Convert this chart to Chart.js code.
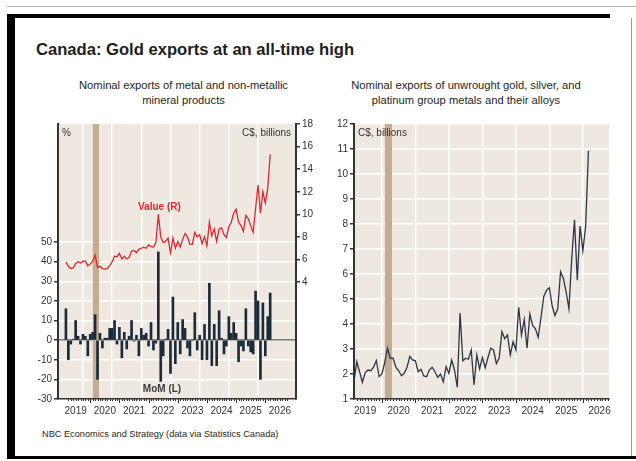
<!DOCTYPE html>
<html>
<head>
<meta charset="utf-8">
<script src="https://cdn.jsdelivr.net/npm/chart.js@4.4.0/dist/chart.umd.min.js"></script>
<style>
    html, body { margin: 0; padding: 0; background: #fff; }
    body {
        width: 636px; height: 461px; position: relative; overflow: hidden;
        font-family: "Liberation Sans", Arial, sans-serif; color: #1e1e1e;
    }
    .abs { position: absolute; }
    #topLine { left: 7px; top: 6px; width: 629px; height: 1px; background: #b0b0b0; }
    #topBar { left: 7px; top: 14px; width: 603px; height: 4px; background: #000; }
    #leftBar { left: 7px; top: 14px; width: 8px; height: 445px; background: #000; }
    #bottomBar { left: 7px; top: 456px; width: 629px; height: 3px; background: #000; }
    #rightLine { left: 631px; top: 18px; width: 1px; height: 438px; background: #9a9a9a; }
    #title { left: 36px; top: 40px; margin: 0; font-size: 16.6px; font-weight: bold; }
    .sub { top: 78px; font-size: 11.2px; line-height: 15px; text-align: center; }
    #subLeft { left: 40px; width: 287px; }
    #subRight { left: 330px; width: 272px; }
    #foot { left: 42px; top: 429px; font-size: 9.2px; }
    .panel { position: absolute; top: 110px; }
    #leftPanel { left: 20px; width: 330px; height: 310px; }
    #rightPanel { left: 320px; width: 310px; height: 310px; }
</style>
</head>
<body>
<div class="abs" id="topLine"></div>
<div class="abs" id="topBar"></div>
<div class="abs" id="leftBar"></div>
<div class="abs" id="bottomBar"></div>
<div class="abs" id="rightLine"></div>

<h1 class="abs" id="title">Canada: Gold exports at an all-time high</h1>
<div class="abs sub" id="subLeft">Nominal exports of metal and non-metallic<br>mineral products</div>
<div class="abs sub" id="subRight">Nominal exports of unwrought gold, silver, and<br>platinum group metals and their alloys</div>
<div class="abs" id="foot">NBC Economics and Strategy (data via Statistics Canada)</div>

<div class="panel" id="leftPanel"><canvas id="mineralChart" width="330" height="310"></canvas></div>
<div class="panel" id="rightPanel"><canvas id="goldChart" width="310" height="310"></canvas></div>

<script>
    // ---- data (monthly, first observation Mar 2019 on the chart's time axis) ----
    const startYear = 2019;
    const startMonth = 3;
    const yearLabels = [2019, 2020, 2021, 2022, 2023, 2024, 2025, 2026];
    const recessionStart = 2020.09;
    const recessionEnd = 2020.30;

    // Left panel: month-over-month change, % (left axis)
    const mineralMoM = [
        16, -10, -2, 0.5, 10, 2, -2, 3, 2, -8,
        3, 4, 13, -20, 3.5, -4, 1, 1, 6, 6,
        10, -2, 6.5, -9, 4, -4.5, 2, 10, -0.5, 2.5,
        -8, 6, 2.5, 3.5, -3, 9, -5, -1.5, 45, -21,
        -8, 0.5, 5.5, -17, 22, -12, 9, -7, 10.5, 6,
        -4, -8, 0, 14, -5, 2.5, -10, 8, -10, 29,
        -13, 8, -13, 15, 1, -7, -3, 12, 3.5, 9,
        3.5, -11, -3, -5.5, 16, -3, -6, -7, 25, 20,
        -20, 19, -8, 12, 24
    ];
    // Left panel: value, C$ billions (right axis)
    const mineralValue = [
        5.8, 5.4, 5.2, 5.25, 5.65, 5.8, 5.7, 5.85, 5.85, 5.45,
        5.6, 5.85, 6.4, 5.3, 5.4, 5.2, 5.15, 5.2, 5.45, 5.8,
        6.3, 6.25, 6.55, 6.05, 6.3, 6.05, 6.2, 6.75, 6.8, 6.6,
        6.9, 7.0, 7.1, 7.0, 7.3, 7.15, 7.1, 7.5, 10.0, 8.0,
        7.5, 7.6, 7.9, 6.6, 7.9, 7.0, 7.6, 7.1, 7.8, 8.3,
        8.0, 7.35, 7.35, 8.4, 8.0, 8.2, 7.4, 8.0, 7.2, 9.3,
        8.1, 8.7, 7.6, 8.7, 8.8, 8.2, 7.95, 8.9, 9.3, 10.1,
        10.45, 9.3, 9.0, 8.5, 9.9, 9.6, 9.0, 8.4, 10.5, 12.6,
        10.1, 12.0, 11.0, 12.3, 15.3
    ];
    // Right panel: unwrought gold, silver and PGM exports, C$ billions
    const goldValue = [
        1.7, 2.49, 2.09, 1.67, 2.05, 2.16, 2.13, 2.27, 2.54, 1.9,
        2.0, 2.45, 3.03, 2.63, 2.63, 2.27, 2.13, 1.93, 2.03, 2.27,
        2.7, 2.56, 2.53, 2.09, 2.19, 1.92, 1.89, 2.16, 2.27, 2.09,
        1.87, 2.0, 1.69, 2.29, 2.03, 2.56, 2.16, 1.47, 4.44, 2.53,
        2.63, 2.59, 2.96, 1.56, 2.76, 2.21, 2.66, 2.25, 2.66, 3.03,
        2.96, 2.42, 2.63, 3.69, 3.41, 3.56, 2.76, 3.29, 2.96, 4.67,
        3.56, 4.18, 3.03, 4.4, 3.94, 3.81, 3.47, 4.26, 5.1, 5.35,
        5.45, 4.72, 4.34, 4.61, 6.09, 5.83, 5.29, 4.61, 6.6, 8.17,
        5.75, 7.92, 6.93, 7.92, 10.93
    ];

    const momTicks = [-30, -20, -10, 0, 10, 20, 30, 40, 50];
    const valueTicks = [4, 6, 8, 10, 12, 14, 16, 18];
    const goldTicks = [1, 2, 3, 4, 5, 6, 7, 8, 9, 10, 11, 12];

    const X_MIN = 2019.167;
    const X_MAX = 2026.78;
    const INK = '#333333';
    const PANEL_BG = '#EEE8E1';
    const SHADE = '#C3AC8F';
    const RED = '#E2262E';
    const NAVY = '#1B2B3A';

    function monthX(i) {
        return startYear + (startMonth - 1 + i) / 12;
    }

    function toPoints(arr) {
        return arr.map((v, i) => ({ x: monthX(i), y: v }));
    }

    const font10 = { family: '"Liberation Sans", Arial, sans-serif', size: 10 };

    // x ticks: year boundaries carry the grid, mid-year ticks carry the labels
    const xTickValues = [];
    yearLabels.forEach(y => { xTickValues.push(y, y + 0.5); });

    function xScale(height) {
        return {
            type: 'linear',
            min: X_MIN,
            max: X_MAX,
            afterBuildTicks: s => {
                s.ticks = xTickValues.filter(v => v >= X_MIN && v <= X_MAX).map(v => ({ value: v }));
            },
            afterFit: s => { s.height = height; },
            grid: {
                color: c => (c.tick && Number.isInteger(c.tick.value)) ? '#FFFFFF' : 'rgba(0,0,0,0)',
                lineWidth: 1.5,
                drawTicks: false
            },
            border: { color: INK, width: 1.5 },
            ticks: {
                padding: 6,
                font: font10,
                color: INK,
                maxRotation: 0,
                autoSkip: false,
                callback: v => Number.isInteger(v) ? '' : String(Math.floor(v))
            }
        };
    }

    function yScale(opts) {
        return {
            type: 'linear',
            position: opts.position,
            min: opts.min,
            max: opts.max,
            afterBuildTicks: s => { s.ticks = opts.ticks.map(v => ({ value: v })); },
            afterFit: s => { s.width = opts.width; },
            grid: {
                drawOnChartArea: opts.grid,
                color: c => (c.tick && c.tick.value === 0 && opts.zeroLine) ? '#7c7c7c' : '#FFFFFF',
                lineWidth: 1.5,
                tickColor: INK,
                tickLength: 4
            },
            border: { color: INK, width: 2 },
            ticks: { padding: 2, font: font10, color: INK, autoSkip: false }
        };
    }

    // background, recession bar, monthly tick marks and in-panel notes
    const panelPlugin = {
        id: 'panel',
        beforeDraw(chart) {
            const { ctx, chartArea: a } = chart;
            ctx.save();
            ctx.fillStyle = PANEL_BG;
            ctx.fillRect(a.left, a.top, a.right - a.left, a.bottom - a.top);
            ctx.restore();
        },
        beforeDatasetsDraw(chart) {
            const { ctx, chartArea: a, scales } = chart;
            const x0 = scales.x.getPixelForValue(recessionStart);
            const x1 = scales.x.getPixelForValue(recessionEnd);
            ctx.save();
            ctx.fillStyle = SHADE;
            ctx.fillRect(x0, a.top, x1 - x0, a.bottom - a.top - 1);
            ctx.restore();
        },
        afterDraw(chart, args, opts) {
            const { ctx, chartArea: a, scales } = chart;
            ctx.save();
            ctx.strokeStyle = INK;
            ctx.lineWidth = 1;
            for (let m = Math.ceil(X_MIN * 12); m <= Math.floor(X_MAX * 12); m++) {
                const px = Math.round(scales.x.getPixelForValue(m / 12)) + 0.5;
                const len = m % 12 === 0 ? 4 : 2;
                ctx.beginPath();
                ctx.moveTo(px, a.bottom);
                ctx.lineTo(px, a.bottom + len);
                ctx.stroke();
            }
            ctx.textBaseline = 'middle';
            (opts.corner || []).forEach(n => {
                ctx.font = '10px "Liberation Sans", Arial, sans-serif';
                ctx.fillStyle = INK;
                ctx.textAlign = n.align;
                const px = n.align === 'left' ? a.left + 4 : a.right - 5;
                ctx.fillText(n.text, px, a.top + 9);
            });
            (opts.notes || []).forEach(n => {
                ctx.font = 'bold 10px "Liberation Sans", Arial, sans-serif';
                ctx.fillStyle = n.color;
                ctx.textAlign = 'center';
                ctx.fillText(n.text, scales.x.getPixelForValue(n.x), scales[n.axis].getPixelForValue(n.y));
            });
            ctx.restore();
        }
    };

    new Chart(document.getElementById('mineralChart'), {
        type: 'bar',
        data: {
            datasets: [
                {
                    type: 'line',
                    label: 'Value (R)',
                    data: toPoints(mineralValue),
                    yAxisID: 'y2',
                    borderColor: RED,
                    borderWidth: 1.3,
                    pointRadius: 0,
                    tension: 0,
                    order: 1
                },
                {
                    type: 'bar',
                    label: 'MoM (L)',
                    data: toPoints(mineralMoM),
                    yAxisID: 'y',
                    backgroundColor: NAVY,
                    barThickness: 2,
                    order: 2
                }
            ]
        },
        options: {
            responsive: false,
            animation: false,
            layout: { padding: { top: 14, left: 0, right: 0, bottom: 0 } },
            plugins: {
                legend: { display: false },
                tooltip: { enabled: false },
                panel: {
                    corner: [{ text: '%', align: 'left' }, { text: 'C$, billions', align: 'right' }],
                    notes: [
                        { text: 'Value (R)', x: 2022.37, y: 10.6, axis: 'y2', color: RED },
                        { text: 'MoM (L)', x: 2022.46, y: -25, axis: 'y', color: '#3a3a3a' }
                    ]
                }
            },
            scales: {
                x: xScale(21),
                y: yScale({ position: 'left', min: -30, max: 110.2, ticks: momTicks, width: 38, grid: true, zeroLine: true }),
                y2: yScale({ position: 'right', min: -6.35, max: 18, ticks: valueTicks, width: 54, grid: false })
            }
        },
        plugins: [panelPlugin]
    });

    new Chart(document.getElementById('goldChart'), {
        type: 'line',
        data: {
            datasets: [{
                label: 'Unwrought gold, silver and PGM',
                data: toPoints(goldValue),
                borderColor: '#2A3845',
                borderWidth: 1.3,
                pointRadius: 0,
                tension: 0
            }]
        },
        options: {
            responsive: false,
            animation: false,
            layout: { padding: { top: 14, left: 0, right: 21, bottom: 0 } },
            plugins: {
                legend: { display: false },
                tooltip: { enabled: false },
                panel: { corner: [{ text: 'C$, billions', align: 'left' }] }
            },
            scales: {
                x: xScale(21),
                y: yScale({ position: 'left', min: 1, max: 12, ticks: goldTicks, width: 34, grid: true })
            }
        },
        plugins: [panelPlugin]
    });
</script>
</body>
</html>
